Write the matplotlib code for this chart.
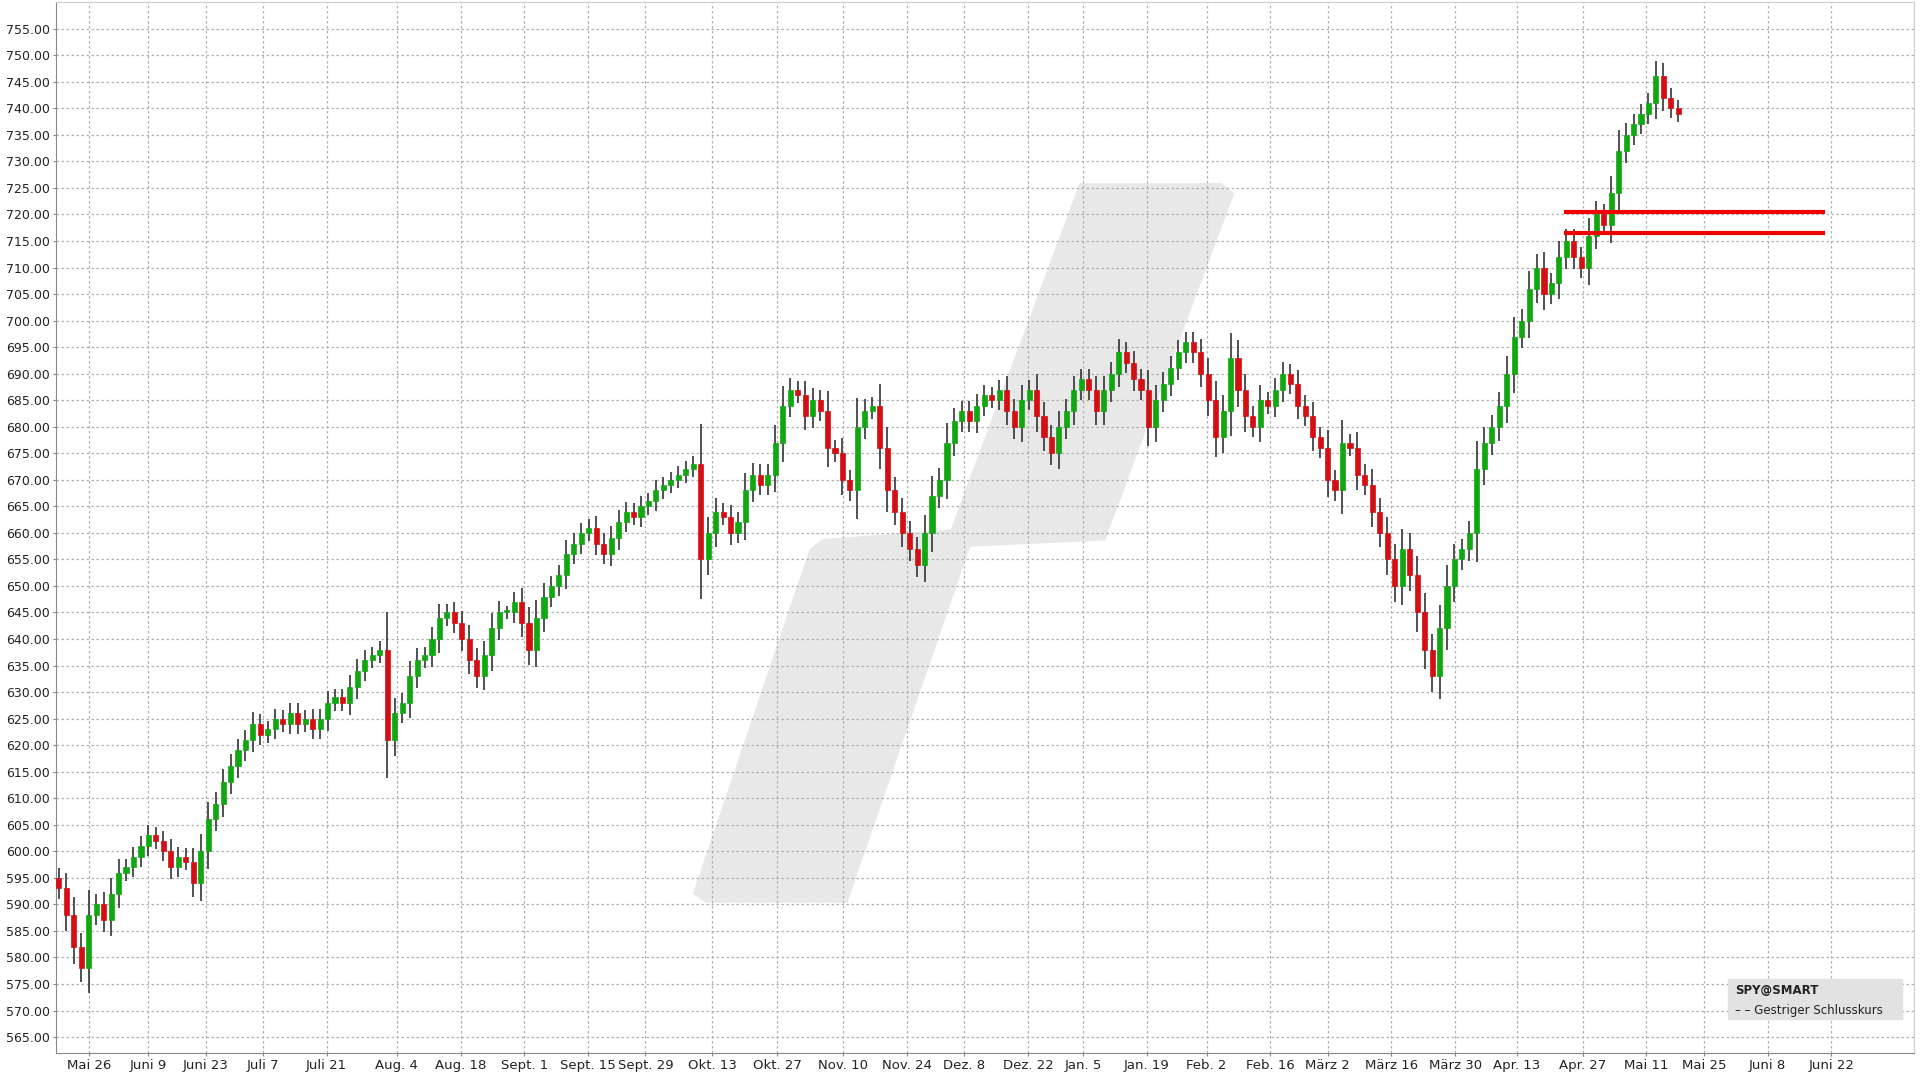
import matplotlib
matplotlib.use("Agg")
import matplotlib.pyplot as plt
import numpy as np
from matplotlib.patches import Polygon, Rectangle

closes = [593,588,582,578,588,590,587,592,596,597,599,601,603,602,600,597,599,598,594,600,
          606,609,613,616,619,621,624,622,623,625,624,626,624,625,623,625,628,629,628,631,634,636,637,638,
          621,626,628,633,636,637,640,644,645,643,640,636,633,637,642,645,645,647,643,638,
          644,648,650,652,656,658,660,661,658,656,659,662,664,663,665,666,668,669,670,671,672,673,
          655,660,664,663,660,662,668,671,669,671,677,684,687,686,682,685,683,676,675,670,668,
          680,683,684,676,668,664,660,657,654,660,667,670,677,681,683,681,684,686,685,687,683,
          680,685,687,682,678,675,680,683,687,689,687,683,687,690,694,692,689,687,
          680,685,688,691,694,696,694,690,685,678,683,693,687,682,680,685,684,687,690,688,
          684,682,678,676,670,668,677,676,671,669,664,660,655,650,657,652,645,638,633,
          642,650,655,657,660,672,677,680,684,690,697,700,706,710,705,707,712,715,712,710,
          716,720,718,724,732,735,737,739,741,746,742,740,739]
first_open = 595
tick_labels = ["Mai 26","Juni 9","Juni 23","Juli 7","Juli 21","Aug. 4","Aug. 18","Sept. 1","Sept. 15",
               "Sept. 29","Okt. 13","Okt. 27","Nov. 10","Nov. 24","Dez. 8","Dez. 22","Jan. 5","Jan. 19",
               "Feb. 2","Feb. 16","März 2","März 16","März 30","Apr. 13","Apr. 27","Mai 11","Mai 25",
               "Juni 8","Juni 22"]
tick_pos = [4.8,14,23,32,42,53,63,73,83,92,102.5,112.7,123,133,142,152,160.6,170.6,180,190,199,209,
            219,228.7,239,249,258,268,278]
levels = [720.5, 716.5]

closes = np.array(closes, float)
opens = np.concatenate([[first_open], closes[:-1]])
n = len(closes)
x = np.arange(n) * 254.0 / (n - 1)
span = np.abs(closes - opens)
highs = np.maximum(opens, closes) + 0.35 * span + 1.2
lows = np.minimum(opens, closes) - 0.35 * span - 1.2

fig = plt.figure(figsize=(19.2, 10.8), dpi=100)
ax = fig.add_axes([0.029, 0.025, 0.968, 0.973])
ax.set_xlim(-0.5, 291)
ax.set_ylim(562, 760)

def px(pts):
    return [[(a - 45) / 1515.0, 1 - (b - 2) / 856.0] for a, b in pts]

wm = Polygon(px([(565, 728), (575, 735), (690, 735), (790, 445), (900, 440), (1005, 158),
                 (995, 150), (880, 150), (775, 432), (670, 440), (660, 448)]),
             closed=True, transform=ax.transAxes, color="#e8e8e8", zorder=0, joinstyle="round")
ax.add_patch(wm)

for xi, o, c, h, l in zip(x, opens, closes, highs, lows):
    col = "#11a711" if c >= o else "#d40f14"
    ax.vlines(xi, l, h, color="#333333", lw=1.2, zorder=2)
    ax.bar(xi, max(abs(c - o), 0.4), bottom=min(o, c), width=0.8, color=col,
           edgecolor=col, lw=0.5, zorder=3)

for lv in levels:
    ax.hlines(lv, 236, 277, color="#ee0000", lw=3, zorder=4)

yt = np.arange(565, 756, 5)
ax.set_yticks(yt)
ax.set_yticklabels([f"{v:.2f}" for v in yt], fontsize=9, color="#222")
ax.set_xticks(tick_pos)
ax.set_xticklabels(tick_labels, fontsize=9.5, color="#222")
ax.tick_params(length=2, pad=2, color="#888")
ax.grid(True, color="#b0b0b0", ls=(0, (2, 2)), lw=0.9)
for s in ["top", "right"]:
    ax.spines[s].set_color("#cccccc")
for s in ["left", "bottom"]:
    ax.spines[s].set_color("#888888")

ax.add_patch(Rectangle(((1408 - 45) / 1515, 1 - (830 - 2) / 856), 142 / 1515, 32 / 856,
                       transform=ax.transAxes, color="#e2e2e2", zorder=5))
ax.text((1414 - 45) / 1515, 1 - (807 - 2) / 856, "SPY@SMART", transform=ax.transAxes, fontsize=8.5,
        fontweight="bold", color="#222", va="center", zorder=6)
ax.text((1414 - 45) / 1515, 1 - (823 - 2) / 856, "– – Gestriger Schlusskurs", transform=ax.transAxes,
        fontsize=8.5, color="#222", va="center", zorder=6)

fig.savefig("out.png", dpi=100)
